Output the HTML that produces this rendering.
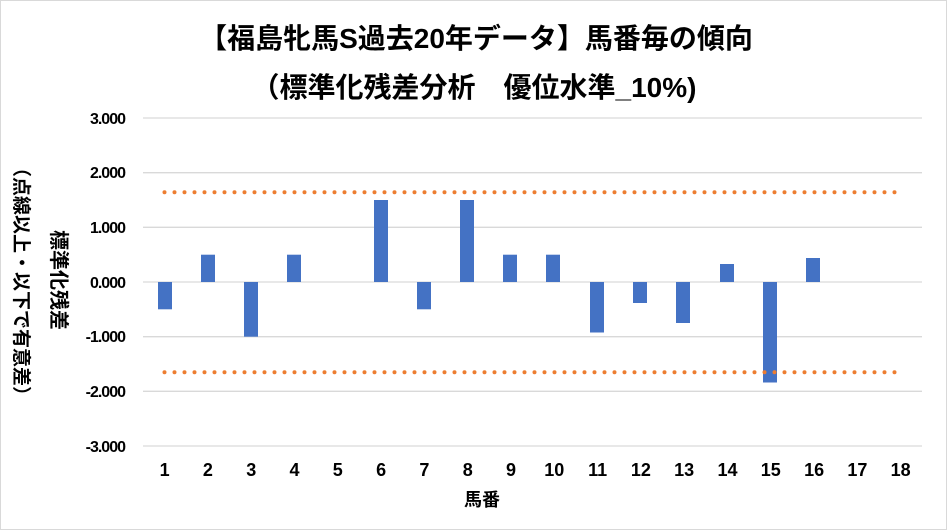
<!DOCTYPE html>
<html><head><meta charset="utf-8"><style>
body{margin:0;background:#fff}
svg{display:block;font-family:"Liberation Sans","Noto Sans CJK JP",sans-serif}
</style></head><body>
<svg width="949" height="530" viewBox="0 0 949 530">
<rect x="0.5" y="0.5" width="946" height="529" fill="#fff" stroke="#d9d9d9"/>
<text x="476" y="48" text-anchor="middle" font-size="28" font-weight="bold" fill="#000">【福島牝馬S過去20年データ】馬番毎の傾向</text>
<text x="474" y="97" text-anchor="middle" font-size="28" font-weight="bold" fill="#000">（標準化残差分析　優位水準_10%)</text>
<g stroke="#d9d9d9" stroke-width="1.3">
<line x1="143" x2="922" y1="118" y2="118"/>
<line x1="143" x2="922" y1="172.7" y2="172.7"/>
<line x1="143" x2="922" y1="227.3" y2="227.3"/>
<line x1="143" x2="922" y1="282" y2="282"/>
<line x1="143" x2="922" y1="336.7" y2="336.7"/>
<line x1="143" x2="922" y1="391.3" y2="391.3"/>
<line x1="143" x2="922" y1="446" y2="446"/>
</g>
<g font-size="16" font-weight="bold" text-anchor="end" fill="#000" letter-spacing="-1">
<text x="125" y="124">3.000</text><text x="125" y="178">2.000</text><text x="125" y="233">1.000</text>
<text x="125" y="288">0.000</text><text x="125" y="342">-1.000</text><text x="125" y="397">-2.000</text><text x="125" y="452">-3.000</text>
</g>
<g fill="#4472c4">
<rect x="158" y="282" width="14" height="27.3"/>
<rect x="201" y="254.7" width="14" height="27.3"/>
<rect x="244" y="282" width="14" height="54.7"/>
<rect x="287" y="254.7" width="14" height="27.3"/>
<rect x="374" y="200" width="14" height="82"/>
<rect x="417" y="282" width="14" height="27.3"/>
<rect x="460" y="200" width="14" height="82"/>
<rect x="503" y="254.7" width="14" height="27.3"/>
<rect x="546" y="254.7" width="14" height="27.3"/>
<rect x="590" y="282" width="14" height="50.5"/>
<rect x="633" y="282" width="14" height="21"/>
<rect x="676" y="282" width="14" height="41"/>
<rect x="720" y="264" width="14" height="18"/>
<rect x="763" y="282" width="14" height="100.5"/>
<rect x="806" y="258" width="14" height="24"/>
</g>
<g stroke="#ed7d31" stroke-width="4" stroke-linecap="round" stroke-dasharray="0 10">
<line x1="164.5" x2="897" y1="192.3" y2="192.3"/>
<line x1="164.5" x2="897" y1="372.3" y2="372.3"/>
</g>
<g font-size="18" font-weight="bold" text-anchor="middle" fill="#000">
<text x="164.6" y="476">1</text><text x="207.9" y="476">2</text><text x="251.2" y="476">3</text><text x="294.5" y="476">4</text>
<text x="337.8" y="476">5</text><text x="381.1" y="476">6</text><text x="424.4" y="476">7</text><text x="467.7" y="476">8</text>
<text x="511" y="476">9</text><text x="554.3" y="476">10</text><text x="597.6" y="476">11</text><text x="640.9" y="476">12</text>
<text x="684.2" y="476">13</text><text x="727.5" y="476">14</text><text x="770.8" y="476">15</text><text x="814.1" y="476">16</text>
<text x="857.4" y="476">17</text><text x="900.7" y="476">18</text>
</g>
<text x="482" y="506" text-anchor="middle" font-size="18" font-weight="bold">馬番</text>
<text transform="translate(52,230) rotate(90)" font-size="20" font-weight="bold">標準化残差</text>
<text transform="translate(15,158) rotate(90)" font-size="19" font-weight="bold">（点線以上・以下で有意差）</text>
</svg>
</body></html>
